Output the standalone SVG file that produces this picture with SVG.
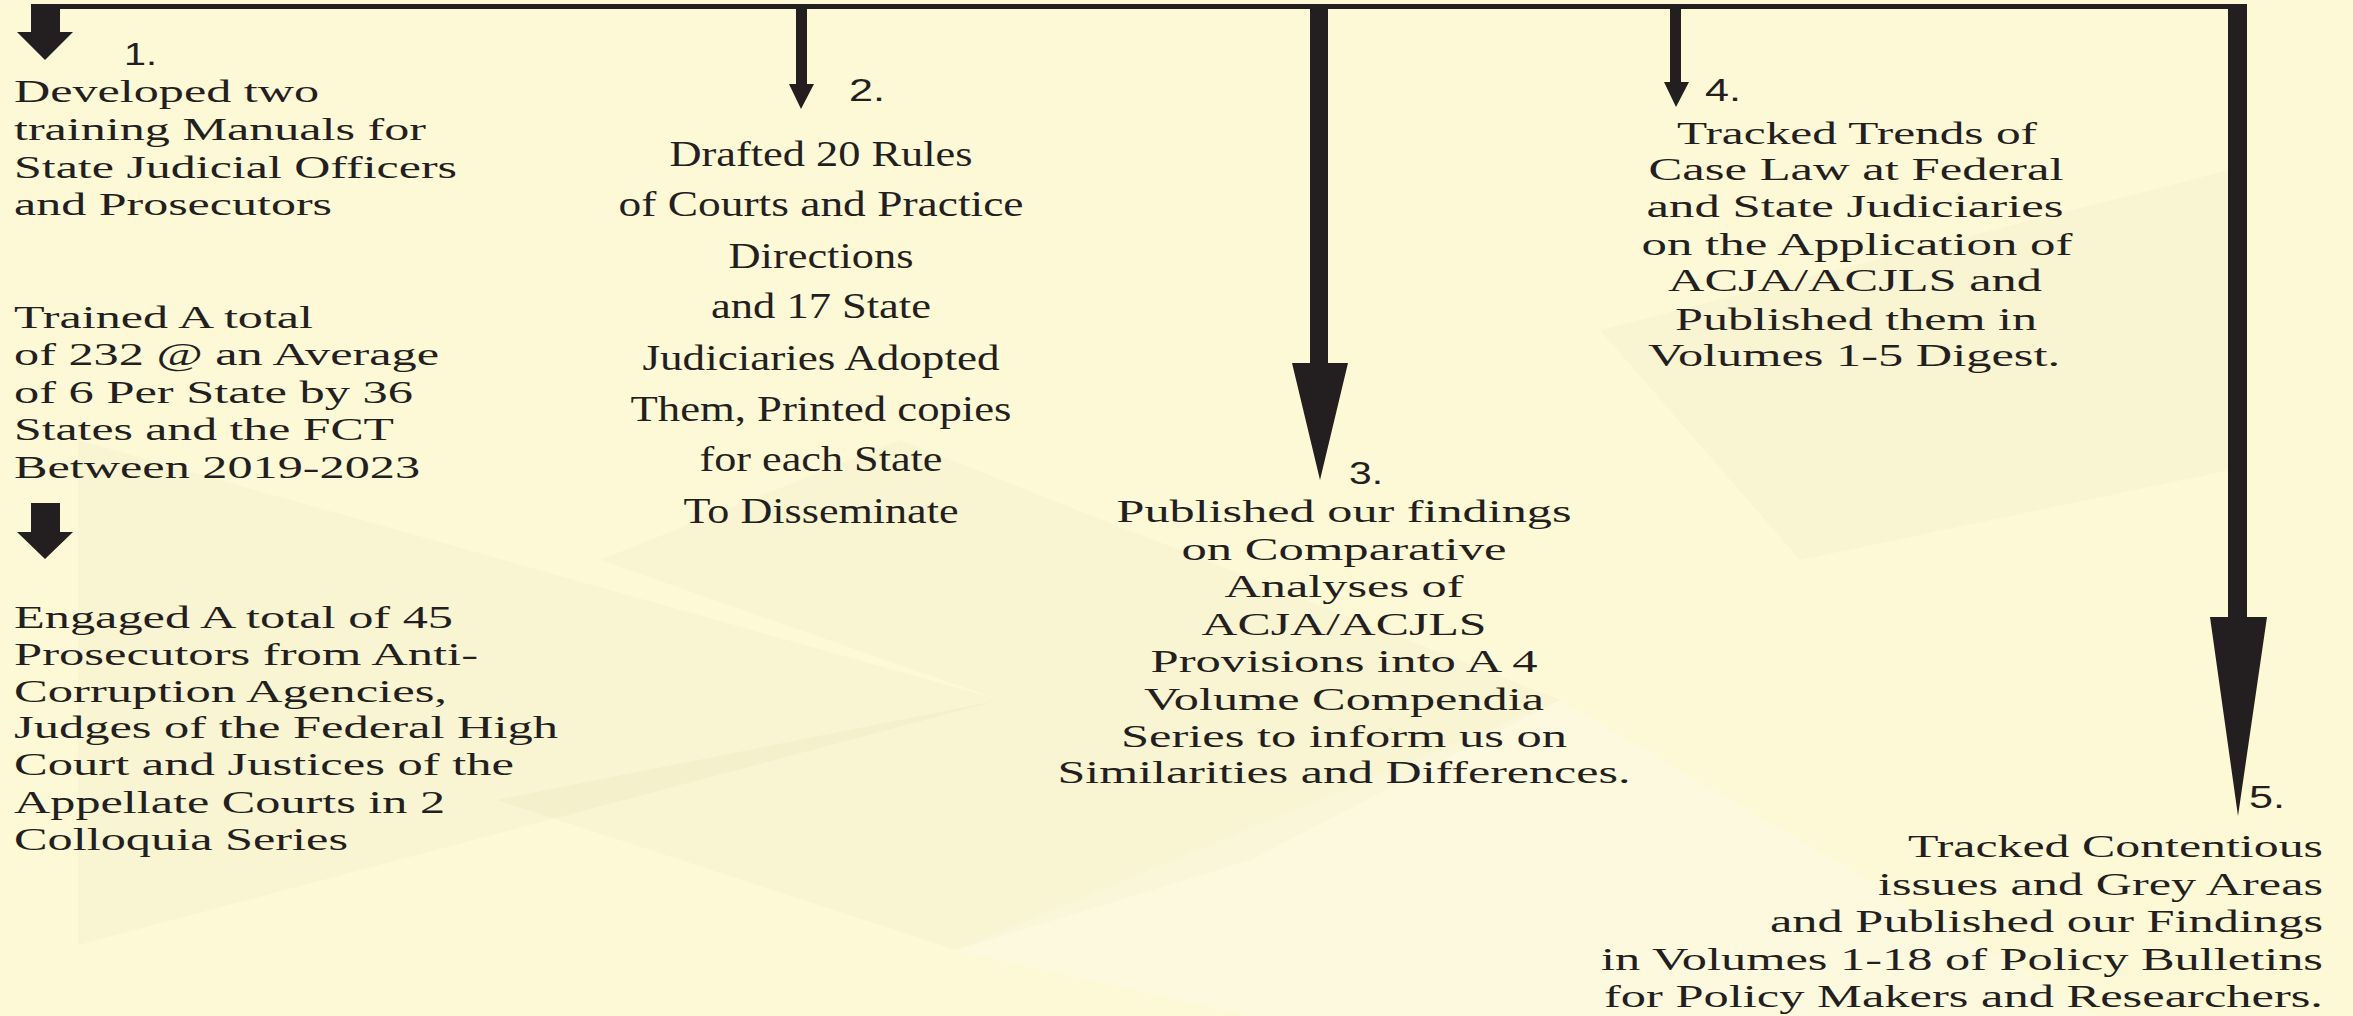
<svg xmlns="http://www.w3.org/2000/svg" width="2353" height="1016" viewBox="0 0 2353 1016">
<style>
.bg{fill:#fdf8d6}
.shade{fill:#8a7a40;opacity:0.03}
.shade2{fill:#ffffff;opacity:0.2}
.ar{fill:#231f20}
.t{font-family:"Liberation Serif","Times New Roman",serif;fill:#231f20}
.b1{font-size:32px}
.b2{font-size:36px;text-anchor:middle}
.b3{font-size:32px;text-anchor:middle}
.b5{font-size:31px;text-anchor:end}
.n{font-family:"Liberation Sans",Arial,sans-serif;font-size:32px;fill:#231f20}
</style>
<rect class="bg" x="0" y="0" width="2353" height="1016"/>
<g id="background-shapes">
<polygon class="shade" points="78,440 1000,700 78,945"/>
<polygon class="shade" points="497,800 956,950 1250,860 1560,700 1000,700"/>
<polygon class="shade" points="1600,330 2230,170 2230,470 1800,560"/>
<polygon class="shade" points="600,560 1000,700 1560,700 900,440"/>
<polygon class="shade2" points="1560,700 2100,1016 1250,1016 956,950"/>
</g>
<g id="connectors">
<rect class="ar" x="45" y="4" width="2202" height="5"/>
<polygon class="ar" points="796,6 807,6 807,84 814,84 801,109 789,84 796,84"/>
<polygon class="ar" points="1310,6 1328,6 1328,363 1348,363 1320,480 1292,363 1310,363"/>
<polygon class="ar" points="1670,6 1681,6 1681,82 1689,82 1676,107 1664,82 1670,82"/>
<polygon class="ar" points="2228,6 2247,6 2247,617 2267,617 2238,816 2210,617 2228,617"/>
<polygon class="ar" points="31,4 60,4 60,32 73,32 45,60 17,32 31,32"/>
<polygon class="ar" points="31,503 60,503 60,532 73,532 45,559 17,532 31,532"/>
</g>
<g id="node1">
<text class="n" x="124" y="65" textLength="33" lengthAdjust="spacingAndGlyphs">1.</text>
<text class="t b1" x="14" y="102" textLength="305" lengthAdjust="spacingAndGlyphs">Developed two</text>
<text class="t b1" x="14" y="140" textLength="412" lengthAdjust="spacingAndGlyphs">training Manuals for</text>
<text class="t b1" x="14" y="178" textLength="443" lengthAdjust="spacingAndGlyphs">State Judicial Officers</text>
<text class="t b1" x="14" y="215" textLength="318" lengthAdjust="spacingAndGlyphs">and Prosecutors</text>
<text class="t b1" x="14" y="328" textLength="299" lengthAdjust="spacingAndGlyphs">Trained A total</text>
<text class="t b1" x="14" y="365" textLength="425" lengthAdjust="spacingAndGlyphs">of 232 @ an Average</text>
<text class="t b1" x="14" y="403" textLength="399" lengthAdjust="spacingAndGlyphs">of 6 Per State by 36</text>
<text class="t b1" x="14" y="440" textLength="380" lengthAdjust="spacingAndGlyphs">States and the FCT</text>
<text class="t b1" x="14" y="478" textLength="406" lengthAdjust="spacingAndGlyphs">Between 2019-2023</text>
<text class="t b1" x="14" y="628" textLength="439" lengthAdjust="spacingAndGlyphs">Engaged A total of 45</text>
<text class="t b1" x="14" y="665" textLength="464" lengthAdjust="spacingAndGlyphs">Prosecutors from Anti-</text>
<text class="t b1" x="14" y="702" textLength="433" lengthAdjust="spacingAndGlyphs">Corruption Agencies,</text>
<text class="t b1" x="14" y="738" textLength="544" lengthAdjust="spacingAndGlyphs">Judges of the Federal High</text>
<text class="t b1" x="14" y="775" textLength="500" lengthAdjust="spacingAndGlyphs">Court and Justices of the</text>
<text class="t b1" x="14" y="813" textLength="431" lengthAdjust="spacingAndGlyphs">Appellate Courts in 2</text>
<text class="t b1" x="14" y="850" textLength="334" lengthAdjust="spacingAndGlyphs">Colloquia Series</text>
</g>
<g id="node2">
<text class="n" x="849" y="101" textLength="36" lengthAdjust="spacingAndGlyphs">2.</text>
<text class="t b2" x="821" y="166" textLength="303" lengthAdjust="spacingAndGlyphs">Drafted 20 Rules</text>
<text class="t b2" x="821" y="216" textLength="405" lengthAdjust="spacingAndGlyphs">of Courts and Practice</text>
<text class="t b2" x="821" y="268" textLength="185" lengthAdjust="spacingAndGlyphs">Directions</text>
<text class="t b2" x="821" y="318" textLength="220" lengthAdjust="spacingAndGlyphs">and 17 State</text>
<text class="t b2" x="821" y="370" textLength="357" lengthAdjust="spacingAndGlyphs">Judiciaries Adopted</text>
<text class="t b2" x="821" y="421" textLength="381" lengthAdjust="spacingAndGlyphs">Them, Printed copies</text>
<text class="t b2" x="821" y="471" textLength="243" lengthAdjust="spacingAndGlyphs">for each State</text>
<text class="t b2" x="821" y="523" textLength="275" lengthAdjust="spacingAndGlyphs">To Disseminate</text>
</g>
<g id="node3">
<text class="n" x="1349" y="484" textLength="34" lengthAdjust="spacingAndGlyphs">3.</text>
<text class="t b3" x="1344" y="522" textLength="455" lengthAdjust="spacingAndGlyphs">Published our findings</text>
<text class="t b3" x="1344" y="560" textLength="325" lengthAdjust="spacingAndGlyphs">on Comparative</text>
<text class="t b3" x="1344" y="597" textLength="239" lengthAdjust="spacingAndGlyphs">Analyses of</text>
<text class="t b3" x="1344" y="635" textLength="285" lengthAdjust="spacingAndGlyphs">ACJA/ACJLS</text>
<text class="t b3" x="1344" y="672" textLength="387" lengthAdjust="spacingAndGlyphs">Provisions into A 4</text>
<text class="t b3" x="1344" y="710" textLength="400" lengthAdjust="spacingAndGlyphs">Volume Compendia</text>
<text class="t b3" x="1344" y="747" textLength="446" lengthAdjust="spacingAndGlyphs">Series to inform us on</text>
<text class="t b3" x="1344" y="783" textLength="573" lengthAdjust="spacingAndGlyphs">Similarities and Differences.</text>
</g>
<g id="node4">
<text class="n" x="1705" y="101" textLength="36" lengthAdjust="spacingAndGlyphs">4.</text>
<text class="t b3" x="1857" y="144" textLength="360" lengthAdjust="spacingAndGlyphs">Tracked Trends of</text>
<text class="t b3" x="1856" y="180" textLength="415" lengthAdjust="spacingAndGlyphs">Case Law at Federal</text>
<text class="t b3" x="1855" y="217" textLength="417" lengthAdjust="spacingAndGlyphs">and State Judiciaries</text>
<text class="t b3" x="1857" y="255" textLength="431" lengthAdjust="spacingAndGlyphs">on the Application of</text>
<text class="t b3" x="1855" y="291" textLength="374" lengthAdjust="spacingAndGlyphs">ACJA/ACJLS and</text>
<text class="t b3" x="1856" y="330" textLength="362" lengthAdjust="spacingAndGlyphs">Published them in</text>
<text class="t b3" x="1854" y="366" textLength="412" lengthAdjust="spacingAndGlyphs">Volumes 1-5 Digest.</text>
</g>
<g id="node5">
<text class="n" x="2249" y="808" textLength="36" lengthAdjust="spacingAndGlyphs">5.</text>
<text class="t b5" x="2323" y="857" textLength="415" lengthAdjust="spacingAndGlyphs">Tracked Contentious</text>
<text class="t b5" x="2323" y="895" textLength="445" lengthAdjust="spacingAndGlyphs">issues and Grey Areas</text>
<text class="t b5" x="2323" y="932" textLength="553" lengthAdjust="spacingAndGlyphs">and Published our Findings</text>
<text class="t b5" x="2323" y="970" textLength="722" lengthAdjust="spacingAndGlyphs">in Volumes 1-18 of Policy Bulletins</text>
<text class="t b5" x="2323" y="1007" textLength="719" lengthAdjust="spacingAndGlyphs">for Policy Makers and Researchers.</text>
</g>
</svg>
